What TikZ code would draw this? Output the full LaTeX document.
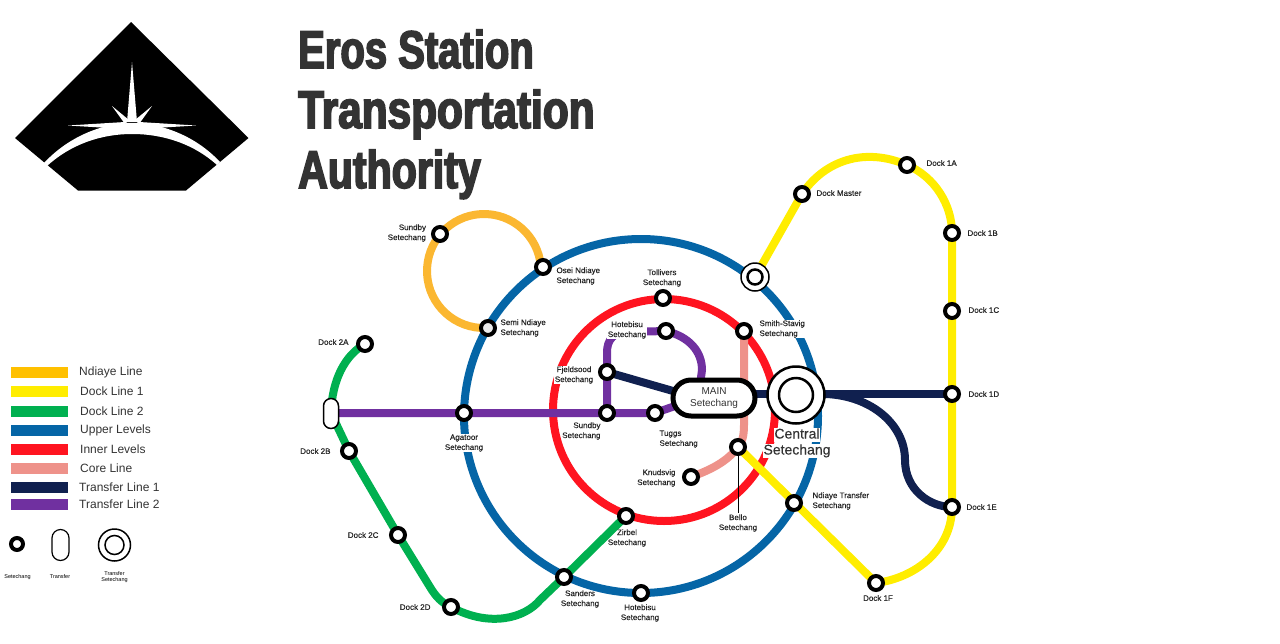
\documentclass[tikz,border=0pt]{standalone}
\usepackage{fontspec}
\setmainfont{Liberation Sans}
\newfontfamily\labfont[FakeBold=0.5]{Liberation Sans}
\newfontfamily\cenfont[FakeBold=0.3]{Liberation Sans}
\newfontfamily\titlefont[FakeStretch=0.76,FakeBold=3]{Liberation Sans Bold}
\definecolor{cNd}{HTML}{FBB731}
\definecolor{cNdL}{HTML}{FFC000}
\definecolor{cDa}{HTML}{FFED00}
\definecolor{cDb}{HTML}{00B050}
\definecolor{cUp}{HTML}{0565A6}
\definecolor{cIn}{HTML}{FF1420}
\definecolor{cCo}{HTML}{EE928A}
\definecolor{cTa}{HTML}{10204F}
\definecolor{cTb}{HTML}{7030A0}
\definecolor{cTxt}{HTML}{333333}
\tikzset{
  lineseg/.style={line width=8pt,line join=round},
  station/.style={circle,draw=black,fill=white,line width=4pt,minimum size=14pt,inner sep=0pt,outer sep=0pt},
  anchorpt/.style={circle,minimum size=14pt,inner sep=0pt,outer sep=0pt},
  ringnode/.style={circle,fill=none,line width=8pt,inner sep=0pt,outer sep=0pt},
  lab/.style={font=\labfont\fontsize{8}{10}\selectfont,text=black!85,inner sep=0.5pt,outer sep=0pt},
  labc/.style={lab,align=center},
  labl/.style={lab,align=left,anchor=west},
  labr/.style={lab,align=right,anchor=east},
  halo/.style={fill=white},
  cenlab/.style={font=\cenfont\fontsize{14}{16}\selectfont,fill=white,inner sep=0.5pt,text=cTxt,text height=10pt,text depth=3pt},
  swatch/.style={minimum width=57pt,minimum height=11pt,inner sep=0pt,outer sep=0pt},
  legtext/.style={font=\fontsize{12}{14}\selectfont,text=cTxt,anchor=west,inner sep=0pt},
  tiny/.style={font=\fontsize{5.5}{6.5}\selectfont,align=center,text=black,inner sep=0pt},
  titletext/.style={font=\titlefont\fontsize{53}{53}\selectfont,text=cTxt,anchor=base west,inner sep=0pt},
  transfer/.style={rounded rectangle,draw=black,fill=white,inner sep=0pt,outer sep=0pt},
}
\usetikzlibrary{shapes.misc}
\begin{document}
\begin{tikzpicture}[x=1pt,y=-1pt]
\useasboundingbox (0,0) rectangle (1280,643);
% logo
\fill[black] (131,22) -- (248.5,138) -- (186,190.5) -- (78,190.5) -- (15,138) -- cycle;
\fill[white] (44,163) .. controls (70,135) and (105,123) .. (132,123) .. controls (160,123) and (195,135) .. (220,162) -- (217,165) .. controls (195,145) and (165,134) .. (132,134) .. controls (100,134) and (70,145) .. (47,166) -- cycle;
\fill[white] (132,62) -- (137,122) -- (127,122) -- cycle;
\fill[white] (68,125.5) -- (125,122) -- (125,129) -- cycle;
\fill[white] (196,125.5) -- (139,122) -- (139,129) -- cycle;
\fill[white] (112,106) -- (129,120) -- (125,124) -- cycle;
\fill[white] (152,106) -- (135,120) -- (139,124) -- cycle;
% title
\node[titletext] (t1) at (298,68) {\scalebox{0.993}[1]{Eros Station}};
\node[titletext] (t2) at (298,128) {\scalebox{1.051}[1]{Transportation}};
\node[titletext] (t3) at (298,188) {\scalebox{1.02}[1]{Authority}};
\coordinate (cMainL) at (680,393);
% rings
\node[ringnode,draw=cUp,minimum size=354pt] (blue) at (641,416) {};
\draw[lineseg,cNd] (484,271)+(93:57) arc[start angle=93,end angle=361,radius=57];
\node[ringnode,draw=cIn,minimum size=222pt] (red) at (664,410) {};
% station positions
\node[anchorpt] (xfer0) at (331,413) {};
\node[anchorpt] (agatoor) at (464,413) {};
\node[anchorpt] (sundbyL) at (607,413) {};
\node[anchorpt] (tuggs) at (655,413) {};
\node[anchorpt] (fjeld) at (607,372) {};
\node[anchorpt] (hoteU) at (666,331) {};
\node[anchorpt] (smith) at (744,331) {};
\node[anchorpt] (bello) at (738,447) {};
\node[anchorpt] (knud) at (691,477) {};
\node[anchorpt] (tstat) at (755,277) {};
\node[anchorpt] (dmaster) at (802,194) {};
\node[anchorpt] (d1a) at (907,165) {};
\node[anchorpt] (d1b) at (952,233) {};
\node[anchorpt] (d1c) at (952,311) {};
\node[anchorpt] (d1d) at (952,394) {};
\node[anchorpt] (d1e) at (952,507) {};
\node[anchorpt] (d1f) at (876,583) {};
\node[anchorpt] (ntrans) at (794,503) {};
\node[anchorpt] (d2a) at (365,344) {};
\node[anchorpt] (d2b) at (349,451) {};
\node[anchorpt] (d2c) at (398,535) {};
\node[anchorpt] (d2d) at (451,607) {};
\node[anchorpt] (sanders) at (564,577) {};
\node[anchorpt] (zirbel) at (626,516) {};
\node[anchorpt] (centralc) at (796,394) {};
\node[anchorpt] (mainc) at (714,394) {};
% core line
\draw[lineseg,cCo] (smith.center) -- (744,425) .. controls (744,437) and (742,442) .. (bello.center) .. controls (727,462) and (710,470) .. (knud.center);
% transfer 2
\draw[lineseg,cTb] (xfer0.center) -- (agatoor.center) -- (sundbyL.center) -- (tuggs.center) -- (675,406);
\draw[lineseg,cTb] (sundbyL.center) -- (fjeld.center) -- (607,352) .. controls (607,340) and (614,332) .. (626,332) -- (hoteU.center) .. controls (690,337) and (702,352) .. (702,370) -- (700,385);
% transfer 1
\draw[lineseg,cTa] (fjeld.center) -- (cMainL);
\draw[lineseg,cTa] (mainc.center) -- (centralc.center) -- (d1d.center);
\draw[lineseg,cTa] (centralc.center) -- (826,394) .. controls (872,396) and (905,425) .. (905,460) .. controls (905,490) and (930,507) .. (d1e.center);
% labels that interrupt lines
\node[labc,halo] (lHote) at (627,330) {Hotebisu\\Setechang};
\node[labl,halo] (lSmith) at (759,329) {Smith-Stavig\\Setechang};
\node[labc,halo] (lFj) at (574,375) {Fjeldsood\\Setechang};
\node[labc,halo] (lAga) at (464,443) {Agatoor\\Setechang};
\node[cenlab] (lCen1) at (797,435) {Central};
\node[cenlab] (lCen2) at (797,451) {Setechang};
% dock 1
\draw[lineseg,cDa] (tstat.center) -- (dmaster.center) .. controls (825,160) and (865,147) .. (d1a.center) .. controls (935,177) and (952,205) .. (d1b.center) -- (d1c.center) -- (d1d.center) -- (d1e.center) .. controls (952,550) and (915,578) .. (d1f.center) -- (bello.center);
% dock 2
\draw[lineseg,cDb] (d2a.center) .. controls (345,355) and (332,380) .. (xfer0.center) -- (d2b.center) -- (d2c.center) -- (430,587) .. controls (436,597) and (442,603) .. (d2d.center) .. controls (490,628) and (525,618) .. (540,600) -- (sanders.center) -- (zirbel.center);
% bello pointer
\draw[black,line width=1pt] (bello.center) -- (738,513);
% other labels
\node[labr] (lSundT) at (426.5,233) {Sundby\\Setechang};
\node[labl] (lOsei) at (556,276) {Osei Ndiaye\\Setechang};
\node[labl] (lSemi) at (500,328) {Semi Ndiaye\\Setechang};
\node[labc] (lToll) at (662,278) {Tollivers\\Setechang};
\node[labr] (lSundL) at (601,431) {Sundby\\Setechang};
\node[labl] (lTug) at (659,439) {Tuggs\\Setechang};
\node[labr] (lKnud) at (676,478) {Knudsvig\\Setechang};
\node[labc] (lBello) at (738,523) {Bello\\Setechang};
\node[labl] (lNT) at (812,501) {Ndiaye Transfer\\Setechang};
\node[labc] (lZir) at (627,538) {Zirbel\\Setechang};
\node[labc] (lSan) at (580,599) {Sanders\\Setechang};
\node[labc] (lHoteL) at (640,613) {Hotebisu\\Setechang};
\node[labl] (lDM) at (816,193) {Dock Master};
\node[labl] (l1A) at (926,163) {Dock 1A};
\node[labl] (l1B) at (967,233) {Dock 1B};
\node[labl] (l1C) at (968,310) {Dock 1C};
\node[labl] (l1D) at (968,394) {Dock 1D};
\node[labl] (l1E) at (966,507) {Dock 1E};
\node[labc] (l1F) at (878,598) {Dock 1F};
\node[labr] (l2A) at (349,342) {Dock 2A};
\node[labr] (l2B) at (331,451) {Dock 2B};
\node[labr] (l2C) at (379,535) {Dock 2C};
\node[labr] (l2D) at (431,607) {Dock 2D};
% stations on top
\node[transfer,minimum width=30pt,minimum height=15pt,rotate=90,line width=1.5pt] (xfer) at (331,413.5) {};
\foreach \p/\n in {agatoor/a,sundbyL/b,tuggs/c,fjeld/d,hoteU/e,smith/f,bello/g,knud/h,dmaster/i,d1a/j,d1b/k,d1c/l,d1d/m,d1e/n,d1f/o,ntrans/p,d2a/q,d2b/r,d2c/s,d2d/t,sanders/u,zirbel/v}
  \node[station] (s\n) at (\p.center) {};
\node[station] (sSundT) at (440,234) {};
\node[station] (sOsei) at (543,267) {};
\node[station,fill=black!8] (sSemi) at (488,328) {};
\node[station] (sToll) at (663,298) {};
\node[station] (sHoteL) at (641,593) {};
% main hub
\node[transfer,minimum width=82pt,minimum height=36pt,line width=5pt,align=center,font=\fontsize{10}{12}\selectfont,text=cTxt] (main) at (714,398) {MAIN\\Setechang};
% central
\node[circle,draw=black,fill=white,line width=2.5pt,minimum size=57pt,inner sep=0pt] (central) at (796,395) {};
\node[circle,draw=black,fill=none,line width=2.5pt,minimum size=34pt,inner sep=0pt] (centralin) at (796,395) {};
% transfer station
\node[circle,draw=black,fill=white,line width=1.5pt,minimum size=28pt,inner sep=0pt] (tsa) at (tstat.center) {};
\node[circle,draw=black,fill=none,line width=2.5pt,minimum size=15pt,inner sep=0pt] (tsb) at (tstat.center) {};
% legend
\foreach \yy/\cc/\tt/\tx in {372/cNdL/Ndiaye Line/79,391/cDa/Dock Line 1/80,411/cDb/Dock Line 2/80,430/cUp/Upper Levels/80,449/cIn/Inner Levels/80,468/cCo/Core Line/80,487/cTa/Transfer Line 1/79,504/cTb/Transfer Line 2/79}{
  \node[swatch,fill=\cc] (sw\yy) at (39.5,\yy) {};
  \node[legtext] (lg\yy) at (\tx,\yy) {\tt};
}
\node[station,minimum size=12pt,line width=4pt] (kS) at (17,544) {};
\node[transfer,minimum width=31pt,minimum height=17pt,rotate=90,line width=1.2pt] (kT) at (60.5,545) {};
\node[circle,draw=black,line width=1.5pt,minimum size=32pt,inner sep=0pt] (kXa) at (114.5,545) {};
\node[circle,draw=black,line width=1.5pt,minimum size=19pt,inner sep=0pt] (kXb) at (114.5,545) {};
\node[tiny] (kl1) at (17.5,577) {Setechang};
\node[tiny] (kl2) at (60,577) {Transfer};
\node[tiny] (kl3) at (114.5,577) {Transfer\\Setechang};
\end{tikzpicture}
\end{document}
